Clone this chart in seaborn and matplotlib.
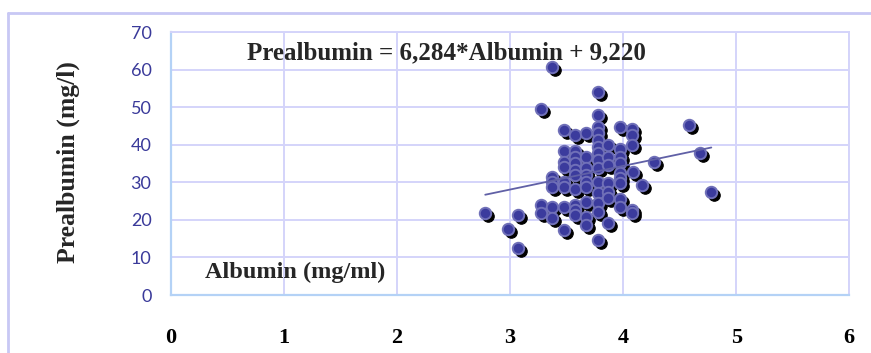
import numpy as np
import pandas as pd
import matplotlib
matplotlib.use("Agg")
import matplotlib.pyplot as plt
import matplotlib.transforms as mtransforms
from matplotlib.lines import Line2D
import seaborn as sns

# Albumin (mg/ml) and prealbumin (mg/l) per patient
albumin = [2.78, 2.98, 3.07, 3.07, 3.27, 3.27, 3.27,
           3.37, 3.37, 3.37, 3.37, 3.37, 3.37,
           3.48, 3.48, 3.48, 3.48, 3.48, 3.48, 3.48, 3.48,
           3.57, 3.57, 3.57, 3.57, 3.57, 3.57, 3.57, 3.57, 3.57, 3.57,
           3.67, 3.67, 3.67, 3.67, 3.67, 3.67, 3.67, 3.67, 3.67,
           3.78, 3.78, 3.78, 3.78, 3.78, 3.78, 3.78, 3.78, 3.78, 3.78, 3.78, 3.78, 3.78, 3.78,
           3.87, 3.87, 3.87, 3.87, 3.87, 3.87, 3.87,
           3.97, 3.97, 3.97, 3.97, 3.97, 3.97, 3.97, 3.97, 3.97,
           4.08, 4.08, 4.08, 4.08, 4.08, 4.09, 4.17, 4.27, 4.58, 4.68, 4.78]
prealbumin = [21.7, 17.6, 21.3, 12.6, 49.4, 24.0, 21.8,
              60.7, 31.4, 30.1, 28.7, 23.4, 20.4,
              44.0, 38.3, 35.4, 34.1, 30.1, 28.7, 23.4, 17.3,
              42.6, 38.3, 36.7, 35.1, 33.3, 31.9, 28.2, 24.0, 22.6, 21.3,
              43.0, 36.7, 33.8, 31.9, 30.1, 28.7, 24.8, 20.8, 18.6,
              54.0, 47.9, 44.7, 43.1, 41.3, 39.4, 37.8, 35.9, 33.8, 30.1, 27.1, 24.5, 22.1, 14.6,
              39.9, 36.7, 34.6, 29.8, 27.4, 25.8, 19.2,
              44.7, 38.9, 36.7, 35.1, 32.5, 31.1, 29.8, 25.6, 23.4,
              44.1, 42.6, 39.9, 22.6, 21.8, 32.7, 29.3, 35.4, 45.2, 37.8, 27.4]

# Linear trend line coefficients
slope = 6.284
intercept = 9.220

x_ticks = [0, 1, 2, 3, 4, 5, 6]
y_ticks = [0, 10, 20, 30, 40, 50, 60, 70]

df = pd.DataFrame({"Albumin": albumin, "Prealbumin": prealbumin})

sns.set_style("white")
plt.rcParams["font.family"] = ["Liberation Serif", "DejaVu Serif"]

fig = plt.figure(figsize=(8.71, 3.53), dpi=100)
ax = fig.add_axes([0.1963, 0.1643, 0.975 - 0.1963, 0.9093 - 0.1643])

# outer chart frame: top and left edges only
frame_x = 8 / 871
frame_y = 1 - 13 / 353
fig.add_artist(Line2D([frame_x, 1.0], [frame_y, frame_y], transform=fig.transFigure,
                      color="#c8c8f4", linewidth=2.0, zorder=0))
fig.add_artist(Line2D([frame_x, frame_x], [0.0, frame_y], transform=fig.transFigure,
                      color="#c8c8f4", linewidth=2.0, zorder=0))

grid_col = "#d4d4fa"
ax.set_xlim(0, 6)
ax.set_ylim(0, 70)
ax.set_xticks(x_ticks)
ax.set_yticks(y_ticks)
ax.grid(True, color=grid_col, linewidth=1.4)
ax.set_axisbelow(True)
for side in ["top", "right"]:
    ax.spines[side].set_color(grid_col)
    ax.spines[side].set_linewidth(1.4)
for side in ["left", "bottom"]:
    ax.spines[side].set_color("#b4d2f6")
    ax.spines[side].set_linewidth(1.6)

face = "#3b3b9d"
edge = "#7070b8"

# drop shadows underneath the markers
sns.scatterplot(data=df, x="Albumin", y="Prealbumin", ax=ax, s=68,
                color="black", edgecolor="black", linewidth=0.8, zorder=3)
shadow = ax.collections[-1]
shadow.set_offset_transform(ax.transData + mtransforms.ScaledTranslation(
    3 / 100, -3 / 100, fig.dpi_scale_trans))

sns.scatterplot(data=df, x="Albumin", y="Prealbumin", ax=ax, s=68,
                color=face, edgecolor=edge, linewidth=1.4, zorder=4)

xs = np.array([min(albumin), max(albumin)])
sns.lineplot(x=xs, y=slope * xs + intercept, ax=ax, color="#6060a6",
             linewidth=1.3, zorder=5)

ax.set_xlabel("")
ax.set_ylabel("")
ax.tick_params(axis="x", length=0, pad=24)
ax.tick_params(axis="y", length=0, pad=14)
for lab in ax.get_xticklabels():
    lab.set_fontfamily(["Liberation Serif"])
    lab.set_fontweight("bold")
    lab.set_fontsize(16)
    lab.set_color("black")
for lab in ax.get_yticklabels():
    lab.set_fontfamily(["Lato", "DejaVu Sans"])
    lab.set_fontsize(13)
    lab.set_color("#3a3a9a")

fig.text(0.513, 0.851, "Prealbumin = 6,284*Albumin + 9,220",
         ha="center", va="center", fontsize=18, fontweight="bold")
fig.text(0.235, 0.229, "Albumin (mg/ml)", ha="left", va="center",
         fontsize=17.5, fontweight="bold")
fig.text(0.078, 0.54, "Prealbumin (mg/l)", ha="center", va="center",
         rotation=90, fontsize=18.5, fontweight="bold")

fig.savefig("out.png", dpi=100)
